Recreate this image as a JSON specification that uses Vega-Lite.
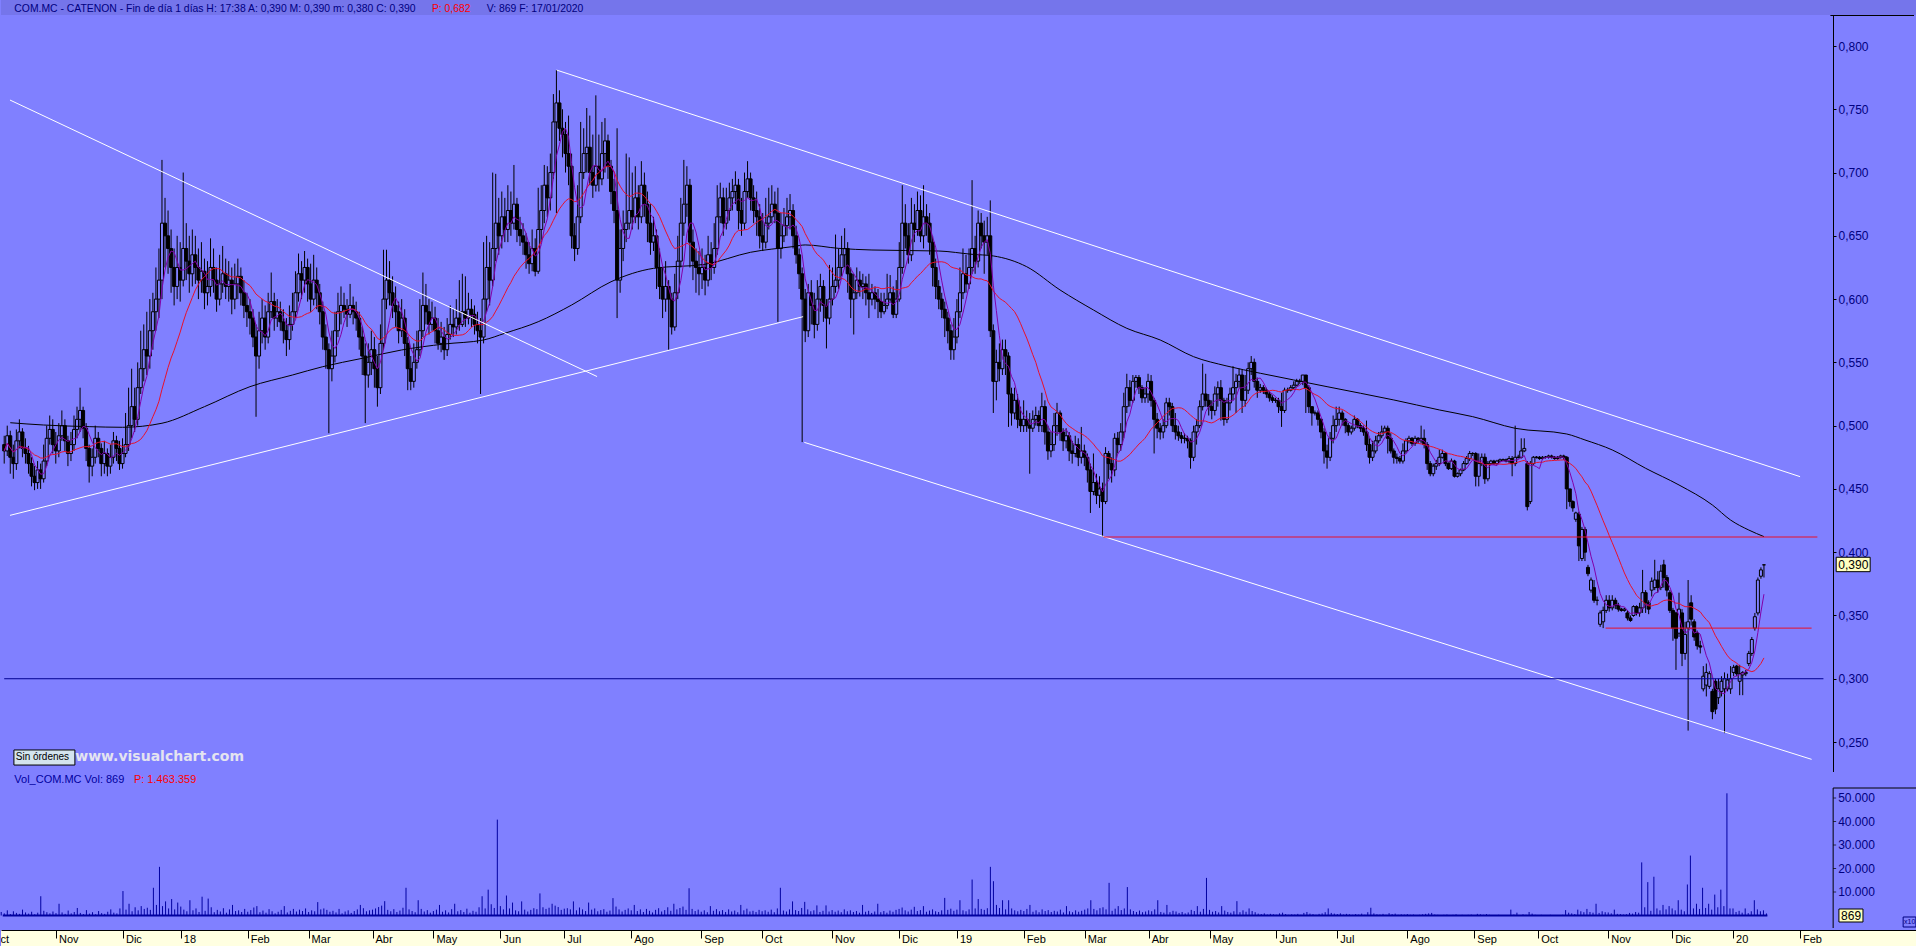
{
"$schema": "https://vega.github.io/schema/vega-lite/v6.json",
"padding": 0,
"spacing": 0,
"background": "#8080FF",
"config": {"view": {"stroke": null}, "axis": {"grid": false, "labelOverlap": false, "labelBound": false}, "text": {"font": "Liberation Sans"}, "bar": {"continuousBandSize": 3},
 "locale": {"number": {"decimal": ",", "thousands": ".", "grouping": [3], "currency": ["", " €"]}}},
"datasets": {
"bars": [
{"i":-18,"o":0.485,"h":0.492,"l":0.47,"c":0.48,"v":1500},
{"i":-17,"o":0.48,"h":0.5,"l":0.476,"c":0.492,"v":900},
{"i":-16,"o":0.492,"h":0.496,"l":0.462,"c":0.475,"v":2200},
{"i":-15,"o":0.475,"h":0.485,"l":0.458,"c":0.47,"v":600},
{"i":-14,"o":0.47,"h":0.497,"l":0.465,"c":0.488,"v":1800},
{"i":-13,"o":0.488,"h":0.505,"l":0.482,"c":0.495,"v":1100},
{"i":-12,"o":0.495,"h":0.498,"l":0.475,"c":0.482,"v":700},
{"i":-11,"o":0.482,"h":0.49,"l":0.47,"c":0.478,"v":2500},
{"i":-10,"o":0.478,"h":0.484,"l":0.462,"c":0.47,"v":1300},
{"i":-9,"o":0.47,"h":0.475,"l":0.452,"c":0.46,"v":800},
{"i":-8,"o":0.46,"h":0.468,"l":0.449,"c":0.455,"v":1600},
{"i":-7,"o":0.455,"h":0.472,"l":0.45,"c":0.465,"v":500},
{"i":-6,"o":0.465,"h":0.47,"l":0.45,"c":0.458,"v":1200},
{"i":-5,"o":0.458,"h":0.485,"l":0.455,"c":0.472,"v":8200},
{"i":-4,"o":0.472,"h":0.5,"l":0.468,"c":0.49,"v":2000},
{"i":-3,"o":0.49,"h":0.508,"l":0.485,"c":0.497,"v":1400},
{"i":-2,"o":0.497,"h":0.505,"l":0.478,"c":0.485,"v":900},
{"i":-1,"o":0.485,"h":0.495,"l":0.47,"c":0.48,"v":1700},
{"i":0,"o":0.48,"h":0.502,"l":0.475,"c":0.492,"v":1000},
{"i":1,"o":0.492,"h":0.512,"l":0.488,"c":0.5,"v":5000},
{"i":2,"o":0.5,"h":0.505,"l":0.48,"c":0.488,"v":1300},
{"i":3,"o":0.488,"h":0.492,"l":0.468,"c":0.478,"v":700},
{"i":4,"o":0.478,"h":0.495,"l":0.472,"c":0.485,"v":2100},
{"i":5,"o":0.485,"h":0.508,"l":0.48,"c":0.497,"v":900},
{"i":6,"o":0.497,"h":0.515,"l":0.49,"c":0.505,"v":1500},
{"i":7,"o":0.505,"h":0.53,"l":0.495,"c":0.512,"v":3200},
{"i":8,"o":0.512,"h":0.515,"l":0.49,"c":0.498,"v":1100},
{"i":9,"o":0.498,"h":0.502,"l":0.472,"c":0.482,"v":600},
{"i":10,"o":0.482,"h":0.485,"l":0.455,"c":0.468,"v":2300},
{"i":11,"o":0.468,"h":0.482,"l":0.46,"c":0.475,"v":800},
{"i":12,"o":0.475,"h":0.5,"l":0.47,"c":0.49,"v":1400},
{"i":13,"o":0.49,"h":0.495,"l":0.475,"c":0.482,"v":500},
{"i":14,"o":0.482,"h":0.486,"l":0.46,"c":0.47,"v":1900},
{"i":15,"o":0.47,"h":0.488,"l":0.462,"c":0.478,"v":1000},
{"i":16,"o":0.478,"h":0.482,"l":0.46,"c":0.468,"v":700},
{"i":17,"o":0.468,"h":0.485,"l":0.462,"c":0.475,"v":1600},
{"i":18,"o":0.475,"h":0.495,"l":0.47,"c":0.488,"v":2600},
{"i":19,"o":0.488,"h":0.492,"l":0.472,"c":0.482,"v":1200},
{"i":20,"o":0.482,"h":0.488,"l":0.465,"c":0.47,"v":900},
{"i":21,"o":0.47,"h":0.49,"l":0.466,"c":0.478,"v":3000},
{"i":22,"o":0.478,"h":0.51,"l":0.475,"c":0.485,"v":10400},
{"i":23,"o":0.485,"h":0.53,"l":0.48,"c":0.5,"v":2500},
{"i":24,"o":0.5,"h":0.545,"l":0.49,"c":0.515,"v":5000},
{"i":25,"o":0.515,"h":0.53,"l":0.495,"c":0.505,"v":1800},
{"i":26,"o":0.505,"h":0.55,"l":0.5,"c":0.53,"v":3500},
{"i":27,"o":0.53,"h":0.575,"l":0.525,"c":0.545,"v":2200},
{"i":28,"o":0.545,"h":0.58,"l":0.535,"c":0.56,"v":4000},
{"i":29,"o":0.56,"h":0.59,"l":0.54,"c":0.555,"v":2800},
{"i":30,"o":0.555,"h":0.6,"l":0.545,"c":0.575,"v":3300},
{"i":31,"o":0.575,"h":0.605,"l":0.56,"c":0.59,"v":2400},
{"i":32,"o":0.59,"h":0.625,"l":0.575,"c":0.6,"v":11800},
{"i":33,"o":0.6,"h":0.64,"l":0.585,"c":0.615,"v":4500},
{"i":34,"o":0.615,"h":0.71,"l":0.6,"c":0.66,"v":20700},
{"i":35,"o":0.66,"h":0.68,"l":0.625,"c":0.65,"v":4000},
{"i":36,"o":0.65,"h":0.67,"l":0.62,"c":0.64,"v":6000},
{"i":37,"o":0.64,"h":0.655,"l":0.605,"c":0.625,"v":3000},
{"i":38,"o":0.625,"h":0.64,"l":0.595,"c":0.61,"v":7000},
{"i":39,"o":0.61,"h":0.65,"l":0.6,"c":0.625,"v":2600},
{"i":40,"o":0.625,"h":0.645,"l":0.598,"c":0.615,"v":5500},
{"i":41,"o":0.615,"h":0.7,"l":0.61,"c":0.64,"v":3800},
{"i":42,"o":0.64,"h":0.66,"l":0.615,"c":0.63,"v":2500},
{"i":43,"o":0.63,"h":0.65,"l":0.605,"c":0.62,"v":1800},
{"i":44,"o":0.62,"h":0.655,"l":0.61,"c":0.635,"v":6500},
{"i":45,"o":0.635,"h":0.65,"l":0.612,"c":0.625,"v":2200},
{"i":46,"o":0.625,"h":0.64,"l":0.6,"c":0.615,"v":3000},
{"i":47,"o":0.615,"h":0.645,"l":0.605,"c":0.622,"v":1500},
{"i":48,"o":0.622,"h":0.632,"l":0.592,"c":0.605,"v":8000},
{"i":49,"o":0.605,"h":0.63,"l":0.595,"c":0.61,"v":2000},
{"i":50,"o":0.61,"h":0.648,"l":0.602,"c":0.625,"v":7200},
{"i":51,"o":0.625,"h":0.64,"l":0.605,"c":0.615,"v":3500},
{"i":52,"o":0.615,"h":0.625,"l":0.59,"c":0.6,"v":1400},
{"i":53,"o":0.6,"h":0.635,"l":0.595,"c":0.612,"v":2400},
{"i":54,"o":0.612,"h":0.642,"l":0.605,"c":0.62,"v":1700},
{"i":55,"o":0.62,"h":0.632,"l":0.6,"c":0.61,"v":3100},
{"i":56,"o":0.61,"h":0.63,"l":0.598,"c":0.615,"v":1200},
{"i":57,"o":0.615,"h":0.625,"l":0.588,"c":0.6,"v":2600},
{"i":58,"o":0.6,"h":0.628,"l":0.592,"c":0.612,"v":4500},
{"i":59,"o":0.612,"h":0.632,"l":0.6,"c":0.618,"v":1900},
{"i":60,"o":0.618,"h":0.625,"l":0.595,"c":0.605,"v":2200},
{"i":61,"o":0.605,"h":0.615,"l":0.585,"c":0.595,"v":1500},
{"i":62,"o":0.595,"h":0.605,"l":0.578,"c":0.59,"v":2800},
{"i":63,"o":0.59,"h":0.6,"l":0.572,"c":0.585,"v":1600},
{"i":64,"o":0.585,"h":0.592,"l":0.562,"c":0.57,"v":2300},
{"i":65,"o":0.57,"h":0.58,"l":0.507,"c":0.555,"v":3400},
{"i":66,"o":0.555,"h":0.59,"l":0.545,"c":0.575,"v":4000},
{"i":67,"o":0.575,"h":0.6,"l":0.565,"c":0.585,"v":1400},
{"i":68,"o":0.585,"h":0.595,"l":0.56,"c":0.57,"v":2100},
{"i":69,"o":0.57,"h":0.605,"l":0.565,"c":0.59,"v":1200},
{"i":70,"o":0.59,"h":0.621,"l":0.585,"c":0.598,"v":2700},
{"i":71,"o":0.598,"h":0.605,"l":0.575,"c":0.585,"v":1800},
{"i":72,"o":0.585,"h":0.6,"l":0.578,"c":0.59,"v":900},
{"i":73,"o":0.59,"h":0.598,"l":0.575,"c":0.582,"v":1600},
{"i":74,"o":0.582,"h":0.592,"l":0.565,"c":0.575,"v":2400},
{"i":75,"o":0.575,"h":0.585,"l":0.555,"c":0.568,"v":4000},
{"i":76,"o":0.568,"h":0.595,"l":0.56,"c":0.58,"v":1300},
{"i":77,"o":0.58,"h":0.605,"l":0.575,"c":0.59,"v":2000},
{"i":78,"o":0.59,"h":0.622,"l":0.585,"c":0.605,"v":2800},
{"i":79,"o":0.605,"h":0.636,"l":0.598,"c":0.62,"v":1700},
{"i":80,"o":0.62,"h":0.63,"l":0.6,"c":0.615,"v":2500},
{"i":81,"o":0.615,"h":0.638,"l":0.605,"c":0.625,"v":1900},
{"i":82,"o":0.625,"h":0.632,"l":0.598,"c":0.612,"v":3000},
{"i":83,"o":0.612,"h":0.628,"l":0.59,"c":0.6,"v":1500},
{"i":84,"o":0.6,"h":0.635,"l":0.595,"c":0.615,"v":2200},
{"i":85,"o":0.615,"h":0.625,"l":0.592,"c":0.605,"v":1800},
{"i":86,"o":0.605,"h":0.612,"l":0.58,"c":0.59,"v":5700},
{"i":87,"o":0.59,"h":0.598,"l":0.56,"c":0.57,"v":2600},
{"i":88,"o":0.57,"h":0.58,"l":0.545,"c":0.56,"v":3000},
{"i":89,"o":0.56,"h":0.565,"l":0.494,"c":0.545,"v":2400},
{"i":90,"o":0.545,"h":0.575,"l":0.535,"c":0.555,"v":1600},
{"i":91,"o":0.555,"h":0.59,"l":0.55,"c":0.575,"v":2000},
{"i":92,"o":0.575,"h":0.605,"l":0.57,"c":0.59,"v":1300},
{"i":93,"o":0.59,"h":0.61,"l":0.58,"c":0.595,"v":2800},
{"i":94,"o":0.595,"h":0.605,"l":0.585,"c":0.592,"v":900},
{"i":95,"o":0.592,"h":0.6,"l":0.578,"c":0.588,"v":1700},
{"i":96,"o":0.588,"h":0.612,"l":0.585,"c":0.595,"v":2200},
{"i":97,"o":0.595,"h":0.602,"l":0.58,"c":0.59,"v":1100},
{"i":98,"o":0.59,"h":0.598,"l":0.575,"c":0.585,"v":1900},
{"i":99,"o":0.585,"h":0.59,"l":0.56,"c":0.57,"v":2600},
{"i":100,"o":0.57,"h":0.578,"l":0.54,"c":0.555,"v":4500},
{"i":101,"o":0.555,"h":0.565,"l":0.502,"c":0.54,"v":3100},
{"i":102,"o":0.54,"h":0.565,"l":0.53,"c":0.55,"v":1800},
{"i":103,"o":0.55,"h":0.575,"l":0.54,"c":0.56,"v":2200},
{"i":104,"o":0.56,"h":0.57,"l":0.53,"c":0.545,"v":2500},
{"i":105,"o":0.545,"h":0.555,"l":0.515,"c":0.53,"v":3000},
{"i":106,"o":0.53,"h":0.58,"l":0.525,"c":0.565,"v":3600},
{"i":107,"o":0.565,"h":0.639,"l":0.56,"c":0.6,"v":4200},
{"i":108,"o":0.6,"h":0.639,"l":0.592,"c":0.615,"v":6100},
{"i":109,"o":0.615,"h":0.63,"l":0.595,"c":0.605,"v":2400},
{"i":110,"o":0.605,"h":0.618,"l":0.585,"c":0.595,"v":1800},
{"i":111,"o":0.595,"h":0.61,"l":0.578,"c":0.59,"v":2700},
{"i":112,"o":0.59,"h":0.598,"l":0.565,"c":0.575,"v":1500},
{"i":113,"o":0.575,"h":0.6,"l":0.57,"c":0.585,"v":2100},
{"i":114,"o":0.585,"h":0.592,"l":0.555,"c":0.565,"v":3300},
{"i":115,"o":0.565,"h":0.57,"l":0.528,"c":0.545,"v":11800},
{"i":116,"o":0.545,"h":0.555,"l":0.528,"c":0.535,"v":2600},
{"i":117,"o":0.535,"h":0.565,"l":0.53,"c":0.55,"v":1900},
{"i":118,"o":0.55,"h":0.575,"l":0.545,"c":0.56,"v":1400},
{"i":119,"o":0.56,"h":0.6,"l":0.555,"c":0.575,"v":6500},
{"i":120,"o":0.575,"h":0.621,"l":0.57,"c":0.595,"v":2800},
{"i":121,"o":0.595,"h":0.612,"l":0.58,"c":0.59,"v":1700},
{"i":122,"o":0.59,"h":0.6,"l":0.572,"c":0.58,"v":2300},
{"i":123,"o":0.58,"h":0.598,"l":0.575,"c":0.585,"v":1200},
{"i":124,"o":0.585,"h":0.594,"l":0.565,"c":0.575,"v":1900},
{"i":125,"o":0.575,"h":0.585,"l":0.56,"c":0.565,"v":2500},
{"i":126,"o":0.565,"h":0.582,"l":0.558,"c":0.57,"v":4500},
{"i":127,"o":0.57,"h":0.578,"l":0.552,"c":0.56,"v":1600},
{"i":128,"o":0.56,"h":0.585,"l":0.555,"c":0.572,"v":2200},
{"i":129,"o":0.572,"h":0.595,"l":0.568,"c":0.58,"v":1300},
{"i":130,"o":0.58,"h":0.592,"l":0.57,"c":0.578,"v":2700},
{"i":131,"o":0.578,"h":0.6,"l":0.572,"c":0.585,"v":5000},
{"i":132,"o":0.585,"h":0.615,"l":0.575,"c":0.58,"v":1800},
{"i":133,"o":0.58,"h":0.62,"l":0.578,"c":0.59,"v":2300},
{"i":134,"o":0.59,"h":0.618,"l":0.578,"c":0.585,"v":1500},
{"i":135,"o":0.585,"h":0.605,"l":0.58,"c":0.592,"v":2900},
{"i":136,"o":0.592,"h":0.6,"l":0.578,"c":0.588,"v":1200},
{"i":137,"o":0.588,"h":0.595,"l":0.572,"c":0.58,"v":2000},
{"i":138,"o":0.58,"h":0.59,"l":0.565,"c":0.575,"v":1600},
{"i":139,"o":0.575,"h":0.585,"l":0.525,"c":0.57,"v":3500},
{"i":140,"o":0.57,"h":0.645,"l":0.565,"c":0.6,"v":8200},
{"i":141,"o":0.6,"h":0.65,"l":0.59,"c":0.625,"v":3000},
{"i":142,"o":0.625,"h":0.645,"l":0.595,"c":0.615,"v":11000},
{"i":143,"o":0.615,"h":0.7,"l":0.61,"c":0.64,"v":4800},
{"i":144,"o":0.64,"h":0.699,"l":0.63,"c":0.66,"v":3200},
{"i":145,"o":0.66,"h":0.68,"l":0.635,"c":0.65,"v":40800},
{"i":146,"o":0.65,"h":0.685,"l":0.64,"c":0.665,"v":4000},
{"i":147,"o":0.665,"h":0.68,"l":0.645,"c":0.655,"v":2600},
{"i":148,"o":0.655,"h":0.69,"l":0.645,"c":0.67,"v":8500},
{"i":149,"o":0.67,"h":0.685,"l":0.65,"c":0.66,"v":3000},
{"i":150,"o":0.66,"h":0.706,"l":0.655,"c":0.675,"v":5500},
{"i":151,"o":0.675,"h":0.68,"l":0.645,"c":0.655,"v":2200},
{"i":152,"o":0.655,"h":0.665,"l":0.642,"c":0.65,"v":1800},
{"i":153,"o":0.65,"h":0.66,"l":0.635,"c":0.645,"v":6000},
{"i":154,"o":0.645,"h":0.652,"l":0.624,"c":0.635,"v":2500},
{"i":155,"o":0.635,"h":0.645,"l":0.62,"c":0.628,"v":1700},
{"i":156,"o":0.628,"h":0.655,"l":0.622,"c":0.64,"v":2400},
{"i":157,"o":0.64,"h":0.648,"l":0.618,"c":0.622,"v":3100},
{"i":158,"o":0.622,"h":0.688,"l":0.62,"c":0.655,"v":2700},
{"i":159,"o":0.655,"h":0.69,"l":0.645,"c":0.67,"v":9400},
{"i":160,"o":0.67,"h":0.706,"l":0.66,"c":0.69,"v":3500},
{"i":161,"o":0.69,"h":0.705,"l":0.665,"c":0.68,"v":2800},
{"i":162,"o":0.68,"h":0.715,"l":0.67,"c":0.7,"v":3300},
{"i":163,"o":0.7,"h":0.762,"l":0.695,"c":0.74,"v":5000},
{"i":164,"o":0.74,"h":0.781,"l":0.668,"c":0.755,"v":4200},
{"i":165,"o":0.755,"h":0.765,"l":0.725,"c":0.735,"v":3600},
{"i":166,"o":0.735,"h":0.75,"l":0.712,"c":0.73,"v":2400},
{"i":167,"o":0.73,"h":0.74,"l":0.7,"c":0.715,"v":2900},
{"i":168,"o":0.715,"h":0.745,"l":0.69,"c":0.705,"v":3100},
{"i":169,"o":0.705,"h":0.715,"l":0.64,"c":0.65,"v":2600},
{"i":170,"o":0.65,"h":0.66,"l":0.63,"c":0.64,"v":6000},
{"i":171,"o":0.64,"h":0.69,"l":0.635,"c":0.665,"v":2200},
{"i":172,"o":0.665,"h":0.74,"l":0.66,"c":0.7,"v":3400},
{"i":173,"o":0.7,"h":0.735,"l":0.695,"c":0.715,"v":2600},
{"i":174,"o":0.715,"h":0.751,"l":0.7,"c":0.72,"v":1900},
{"i":175,"o":0.72,"h":0.745,"l":0.69,"c":0.7,"v":5500},
{"i":176,"o":0.7,"h":0.73,"l":0.68,"c":0.69,"v":2500},
{"i":177,"o":0.69,"h":0.761,"l":0.685,"c":0.705,"v":3000},
{"i":178,"o":0.705,"h":0.73,"l":0.685,"c":0.695,"v":1800},
{"i":179,"o":0.695,"h":0.74,"l":0.69,"c":0.715,"v":2300},
{"i":180,"o":0.715,"h":0.743,"l":0.7,"c":0.725,"v":2700},
{"i":181,"o":0.725,"h":0.73,"l":0.695,"c":0.705,"v":1600},
{"i":182,"o":0.705,"h":0.71,"l":0.675,"c":0.685,"v":2100},
{"i":183,"o":0.685,"h":0.695,"l":0.66,"c":0.67,"v":7400},
{"i":184,"o":0.67,"h":0.735,"l":0.585,"c":0.615,"v":3800},
{"i":185,"o":0.615,"h":0.655,"l":0.605,"c":0.64,"v":2600},
{"i":186,"o":0.64,"h":0.67,"l":0.63,"c":0.655,"v":1700},
{"i":187,"o":0.655,"h":0.715,"l":0.645,"c":0.66,"v":2400},
{"i":188,"o":0.66,"h":0.712,"l":0.655,"c":0.67,"v":3000},
{"i":189,"o":0.67,"h":0.7,"l":0.655,"c":0.665,"v":2200},
{"i":190,"o":0.665,"h":0.705,"l":0.66,"c":0.68,"v":4500},
{"i":191,"o":0.68,"h":0.69,"l":0.655,"c":0.665,"v":1900},
{"i":192,"o":0.665,"h":0.709,"l":0.66,"c":0.69,"v":2600},
{"i":193,"o":0.69,"h":0.7,"l":0.665,"c":0.675,"v":1500},
{"i":194,"o":0.675,"h":0.685,"l":0.645,"c":0.66,"v":2800},
{"i":195,"o":0.66,"h":0.675,"l":0.635,"c":0.645,"v":2000},
{"i":196,"o":0.645,"h":0.665,"l":0.638,"c":0.65,"v":1300},
{"i":197,"o":0.65,"h":0.655,"l":0.608,"c":0.625,"v":2400},
{"i":198,"o":0.625,"h":0.64,"l":0.6,"c":0.61,"v":3100},
{"i":199,"o":0.61,"h":0.625,"l":0.585,"c":0.6,"v":1700},
{"i":200,"o":0.6,"h":0.63,"l":0.59,"c":0.61,"v":2300},
{"i":201,"o":0.61,"h":0.615,"l":0.56,"c":0.6,"v":3500},
{"i":202,"o":0.6,"h":0.605,"l":0.572,"c":0.578,"v":2000},
{"i":203,"o":0.578,"h":0.62,"l":0.575,"c":0.605,"v":5000},
{"i":204,"o":0.605,"h":0.65,"l":0.6,"c":0.63,"v":2600},
{"i":205,"o":0.63,"h":0.68,"l":0.625,"c":0.66,"v":3200},
{"i":206,"o":0.66,"h":0.71,"l":0.65,"c":0.675,"v":3800},
{"i":207,"o":0.675,"h":0.705,"l":0.665,"c":0.69,"v":2400},
{"i":208,"o":0.69,"h":0.695,"l":0.625,"c":0.645,"v":11600},
{"i":209,"o":0.645,"h":0.655,"l":0.615,"c":0.63,"v":2800},
{"i":210,"o":0.63,"h":0.64,"l":0.605,"c":0.625,"v":1900},
{"i":211,"o":0.625,"h":0.638,"l":0.603,"c":0.62,"v":2500},
{"i":212,"o":0.62,"h":0.64,"l":0.608,"c":0.625,"v":1600},
{"i":213,"o":0.625,"h":0.635,"l":0.603,"c":0.615,"v":2200},
{"i":214,"o":0.615,"h":0.65,"l":0.61,"c":0.635,"v":1400},
{"i":215,"o":0.635,"h":0.645,"l":0.615,"c":0.625,"v":4000},
{"i":216,"o":0.625,"h":0.66,"l":0.62,"c":0.64,"v":2000},
{"i":217,"o":0.64,"h":0.69,"l":0.635,"c":0.665,"v":2700},
{"i":218,"o":0.665,"h":0.692,"l":0.66,"c":0.68,"v":1800},
{"i":219,"o":0.68,"h":0.688,"l":0.65,"c":0.66,"v":2300},
{"i":220,"o":0.66,"h":0.688,"l":0.655,"c":0.67,"v":1500},
{"i":221,"o":0.67,"h":0.692,"l":0.662,"c":0.68,"v":2600},
{"i":222,"o":0.68,"h":0.695,"l":0.67,"c":0.685,"v":1700},
{"i":223,"o":0.685,"h":0.701,"l":0.675,"c":0.69,"v":2100},
{"i":224,"o":0.69,"h":0.695,"l":0.655,"c":0.67,"v":1400},
{"i":225,"o":0.67,"h":0.68,"l":0.65,"c":0.66,"v":4500},
{"i":226,"o":0.66,"h":0.7,"l":0.655,"c":0.685,"v":2200},
{"i":227,"o":0.685,"h":0.709,"l":0.68,"c":0.695,"v":2900},
{"i":228,"o":0.695,"h":0.7,"l":0.67,"c":0.68,"v":1700},
{"i":229,"o":0.68,"h":0.69,"l":0.66,"c":0.67,"v":2000},
{"i":230,"o":0.67,"h":0.685,"l":0.65,"c":0.665,"v":1500},
{"i":231,"o":0.665,"h":0.675,"l":0.64,"c":0.65,"v":2400},
{"i":232,"o":0.65,"h":0.668,"l":0.638,"c":0.645,"v":1800},
{"i":233,"o":0.645,"h":0.68,"l":0.64,"c":0.66,"v":2200},
{"i":234,"o":0.66,"h":0.688,"l":0.655,"c":0.665,"v":1600},
{"i":235,"o":0.665,"h":0.69,"l":0.66,"c":0.675,"v":2500},
{"i":236,"o":0.675,"h":0.685,"l":0.66,"c":0.668,"v":1400},
{"i":237,"o":0.668,"h":0.688,"l":0.582,"c":0.64,"v":3000},
{"i":238,"o":0.64,"h":0.668,"l":0.632,"c":0.65,"v":11800},
{"i":239,"o":0.65,"h":0.672,"l":0.645,"c":0.658,"v":2100},
{"i":240,"o":0.658,"h":0.68,"l":0.65,"c":0.665,"v":1700},
{"i":241,"o":0.665,"h":0.683,"l":0.655,"c":0.67,"v":2600},
{"i":242,"o":0.67,"h":0.675,"l":0.64,"c":0.65,"v":6000},
{"i":243,"o":0.65,"h":0.658,"l":0.628,"c":0.635,"v":2300},
{"i":244,"o":0.635,"h":0.64,"l":0.608,"c":0.62,"v":1900},
{"i":245,"o":0.62,"h":0.625,"l":0.487,"c":0.6,"v":3200},
{"i":246,"o":0.6,"h":0.608,"l":0.566,"c":0.575,"v":5800},
{"i":247,"o":0.575,"h":0.612,"l":0.57,"c":0.605,"v":2600},
{"i":248,"o":0.605,"h":0.615,"l":0.58,"c":0.595,"v":1800},
{"i":249,"o":0.595,"h":0.605,"l":0.569,"c":0.58,"v":2200},
{"i":250,"o":0.58,"h":0.615,"l":0.575,"c":0.6,"v":4300},
{"i":251,"o":0.6,"h":0.62,"l":0.59,"c":0.61,"v":1500},
{"i":252,"o":0.61,"h":0.615,"l":0.582,"c":0.595,"v":2000},
{"i":253,"o":0.595,"h":0.6,"l":0.561,"c":0.585,"v":4300},
{"i":254,"o":0.585,"h":0.627,"l":0.58,"c":0.6,"v":1700},
{"i":255,"o":0.6,"h":0.625,"l":0.595,"c":0.61,"v":2300},
{"i":256,"o":0.61,"h":0.651,"l":0.605,"c":0.615,"v":1600},
{"i":257,"o":0.615,"h":0.64,"l":0.608,"c":0.625,"v":2100},
{"i":258,"o":0.625,"h":0.65,"l":0.618,"c":0.635,"v":1400},
{"i":259,"o":0.635,"h":0.656,"l":0.625,"c":0.64,"v":2600},
{"i":260,"o":0.64,"h":0.645,"l":0.605,"c":0.62,"v":1800},
{"i":261,"o":0.62,"h":0.625,"l":0.585,"c":0.6,"v":2200},
{"i":262,"o":0.6,"h":0.62,"l":0.572,"c":0.605,"v":1500},
{"i":263,"o":0.605,"h":0.625,"l":0.6,"c":0.615,"v":1900},
{"i":264,"o":0.615,"h":0.622,"l":0.602,"c":0.61,"v":1200},
{"i":265,"o":0.61,"h":0.62,"l":0.6,"c":0.612,"v":4500},
{"i":266,"o":0.612,"h":0.618,"l":0.595,"c":0.605,"v":1600},
{"i":267,"o":0.605,"h":0.62,"l":0.585,"c":0.6,"v":2000},
{"i":268,"o":0.6,"h":0.612,"l":0.595,"c":0.605,"v":1100},
{"i":269,"o":0.605,"h":0.61,"l":0.592,"c":0.6,"v":1700},
{"i":270,"o":0.6,"h":0.608,"l":0.585,"c":0.598,"v":5000},
{"i":271,"o":0.598,"h":0.605,"l":0.585,"c":0.59,"v":1400},
{"i":272,"o":0.59,"h":0.605,"l":0.588,"c":0.595,"v":1900},
{"i":273,"o":0.595,"h":0.62,"l":0.592,"c":0.6,"v":1200},
{"i":274,"o":0.6,"h":0.619,"l":0.598,"c":0.605,"v":2100},
{"i":275,"o":0.605,"h":0.61,"l":0.585,"c":0.588,"v":1600},
{"i":276,"o":0.588,"h":0.615,"l":0.585,"c":0.6,"v":2400},
{"i":277,"o":0.6,"h":0.645,"l":0.598,"c":0.625,"v":2800},
{"i":278,"o":0.625,"h":0.69,"l":0.62,"c":0.66,"v":3400},
{"i":279,"o":0.66,"h":0.675,"l":0.64,"c":0.65,"v":2200},
{"i":280,"o":0.65,"h":0.66,"l":0.628,"c":0.635,"v":1700},
{"i":281,"o":0.635,"h":0.68,"l":0.63,"c":0.66,"v":2500},
{"i":282,"o":0.66,"h":0.675,"l":0.645,"c":0.655,"v":3700},
{"i":283,"o":0.655,"h":0.685,"l":0.65,"c":0.67,"v":1900},
{"i":284,"o":0.67,"h":0.682,"l":0.645,"c":0.65,"v":2300},
{"i":285,"o":0.65,"h":0.69,"l":0.64,"c":0.665,"v":4000},
{"i":286,"o":0.665,"h":0.675,"l":0.65,"c":0.66,"v":1600},
{"i":287,"o":0.66,"h":0.668,"l":0.635,"c":0.645,"v":2100},
{"i":288,"o":0.645,"h":0.65,"l":0.61,"c":0.625,"v":2600},
{"i":289,"o":0.625,"h":0.632,"l":0.6,"c":0.61,"v":1800},
{"i":290,"o":0.61,"h":0.615,"l":0.592,"c":0.6,"v":1500},
{"i":291,"o":0.6,"h":0.605,"l":0.585,"c":0.592,"v":2200},
{"i":292,"o":0.592,"h":0.598,"l":0.57,"c":0.585,"v":7500},
{"i":293,"o":0.585,"h":0.59,"l":0.565,"c":0.575,"v":2400},
{"i":294,"o":0.575,"h":0.58,"l":0.552,"c":0.56,"v":2900},
{"i":295,"o":0.56,"h":0.585,"l":0.552,"c":0.57,"v":2000},
{"i":296,"o":0.57,"h":0.6,"l":0.565,"c":0.59,"v":2500},
{"i":297,"o":0.59,"h":0.625,"l":0.585,"c":0.605,"v":6500},
{"i":298,"o":0.605,"h":0.64,"l":0.6,"c":0.62,"v":2200},
{"i":299,"o":0.62,"h":0.635,"l":0.605,"c":0.612,"v":1800},
{"i":300,"o":0.612,"h":0.64,"l":0.608,"c":0.625,"v":2600},
{"i":301,"o":0.625,"h":0.694,"l":0.62,"c":0.64,"v":15300},
{"i":302,"o":0.64,"h":0.65,"l":0.62,"c":0.63,"v":3000},
{"i":303,"o":0.63,"h":0.67,"l":0.625,"c":0.66,"v":7000},
{"i":304,"o":0.66,"h":0.668,"l":0.64,"c":0.65,"v":2800},
{"i":305,"o":0.65,"h":0.662,"l":0.62,"c":0.645,"v":2400},
{"i":306,"o":0.645,"h":0.665,"l":0.635,"c":0.65,"v":3100},
{"i":307,"o":0.65,"h":0.678,"l":0.57,"c":0.575,"v":20700},
{"i":308,"o":0.575,"h":0.58,"l":0.51,"c":0.535,"v":14600},
{"i":309,"o":0.535,"h":0.56,"l":0.52,"c":0.55,"v":4500},
{"i":310,"o":0.55,"h":0.565,"l":0.535,"c":0.545,"v":3200},
{"i":311,"o":0.545,"h":0.568,"l":0.54,"c":0.56,"v":6500},
{"i":312,"o":0.56,"h":0.568,"l":0.54,"c":0.555,"v":2600},
{"i":313,"o":0.555,"h":0.558,"l":0.499,"c":0.525,"v":6500},
{"i":314,"o":0.525,"h":0.53,"l":0.5,"c":0.51,"v":3000},
{"i":315,"o":0.51,"h":0.53,"l":0.505,"c":0.52,"v":2200},
{"i":316,"o":0.52,"h":0.525,"l":0.498,"c":0.505,"v":1800},
{"i":317,"o":0.505,"h":0.515,"l":0.495,"c":0.5,"v":2400},
{"i":318,"o":0.5,"h":0.52,"l":0.495,"c":0.505,"v":1900},
{"i":319,"o":0.505,"h":0.512,"l":0.495,"c":0.5,"v":2800},
{"i":320,"o":0.5,"h":0.51,"l":0.462,"c":0.498,"v":4500},
{"i":321,"o":0.498,"h":0.512,"l":0.495,"c":0.505,"v":1600},
{"i":322,"o":0.505,"h":0.515,"l":0.5,"c":0.508,"v":2200},
{"i":323,"o":0.508,"h":0.512,"l":0.495,"c":0.5,"v":1400},
{"i":324,"o":0.5,"h":0.526,"l":0.495,"c":0.515,"v":2600},
{"i":325,"o":0.515,"h":0.52,"l":0.485,"c":0.495,"v":1900},
{"i":326,"o":0.495,"h":0.5,"l":0.473,"c":0.48,"v":2300},
{"i":327,"o":0.48,"h":0.495,"l":0.475,"c":0.485,"v":1500},
{"i":328,"o":0.485,"h":0.51,"l":0.48,"c":0.5,"v":2000},
{"i":329,"o":0.5,"h":0.518,"l":0.492,"c":0.51,"v":1700},
{"i":330,"o":0.51,"h":0.512,"l":0.488,"c":0.495,"v":2500},
{"i":331,"o":0.495,"h":0.498,"l":0.48,"c":0.488,"v":1300},
{"i":332,"o":0.488,"h":0.498,"l":0.482,"c":0.492,"v":4000},
{"i":333,"o":0.492,"h":0.495,"l":0.472,"c":0.48,"v":1800},
{"i":334,"o":0.48,"h":0.488,"l":0.47,"c":0.478,"v":1400},
{"i":335,"o":0.478,"h":0.492,"l":0.475,"c":0.485,"v":2200},
{"i":336,"o":0.485,"h":0.49,"l":0.468,"c":0.475,"v":1600},
{"i":337,"o":0.475,"h":0.499,"l":0.47,"c":0.48,"v":2000},
{"i":338,"o":0.48,"h":0.485,"l":0.468,"c":0.475,"v":2500},
{"i":339,"o":0.475,"h":0.478,"l":0.455,"c":0.465,"v":3000},
{"i":340,"o":0.465,"h":0.47,"l":0.431,"c":0.448,"v":6500},
{"i":341,"o":0.448,"h":0.478,"l":0.445,"c":0.455,"v":2800},
{"i":342,"o":0.455,"h":0.462,"l":0.438,"c":0.445,"v":2200},
{"i":343,"o":0.445,"h":0.46,"l":0.435,"c":0.45,"v":3100},
{"i":344,"o":0.45,"h":0.455,"l":0.412,"c":0.44,"v":3500},
{"i":345,"o":0.44,"h":0.483,"l":0.438,"c":0.478,"v":2600},
{"i":346,"o":0.478,"h":0.48,"l":0.458,"c":0.47,"v":13900},
{"i":347,"o":0.47,"h":0.475,"l":0.455,"c":0.465,"v":2000},
{"i":348,"o":0.465,"h":0.494,"l":0.46,"c":0.49,"v":2900},
{"i":349,"o":0.49,"h":0.495,"l":0.478,"c":0.485,"v":4000},
{"i":350,"o":0.485,"h":0.502,"l":0.48,"c":0.495,"v":2300},
{"i":351,"o":0.495,"h":0.526,"l":0.49,"c":0.515,"v":3000},
{"i":352,"o":0.515,"h":0.541,"l":0.51,"c":0.53,"v":12100},
{"i":353,"o":0.53,"h":0.536,"l":0.515,"c":0.52,"v":2600},
{"i":354,"o":0.52,"h":0.54,"l":0.518,"c":0.535,"v":1900},
{"i":355,"o":0.535,"h":0.54,"l":0.53,"c":0.538,"v":1500},
{"i":356,"o":0.538,"h":0.54,"l":0.525,"c":0.53,"v":2100},
{"i":357,"o":0.53,"h":0.532,"l":0.518,"c":0.522,"v":1400},
{"i":358,"o":0.522,"h":0.53,"l":0.518,"c":0.525,"v":1700},
{"i":359,"o":0.525,"h":0.541,"l":0.518,"c":0.535,"v":2200},
{"i":360,"o":0.535,"h":0.54,"l":0.515,"c":0.52,"v":1800},
{"i":361,"o":0.52,"h":0.522,"l":0.478,"c":0.505,"v":2600},
{"i":362,"o":0.505,"h":0.51,"l":0.49,"c":0.498,"v":6500},
{"i":363,"o":0.498,"h":0.502,"l":0.489,"c":0.495,"v":1500},
{"i":364,"o":0.495,"h":0.505,"l":0.49,"c":0.5,"v":1200},
{"i":365,"o":0.5,"h":0.522,"l":0.498,"c":0.518,"v":4500},
{"i":366,"o":0.518,"h":0.522,"l":0.508,"c":0.515,"v":1400},
{"i":367,"o":0.515,"h":0.518,"l":0.495,"c":0.5,"v":2000},
{"i":368,"o":0.5,"h":0.51,"l":0.489,"c":0.495,"v":1700},
{"i":369,"o":0.495,"h":0.5,"l":0.488,"c":0.492,"v":1100},
{"i":370,"o":0.492,"h":0.495,"l":0.486,"c":0.49,"v":1500},
{"i":371,"o":0.49,"h":0.494,"l":0.486,"c":0.49,"v":900},
{"i":372,"o":0.49,"h":0.492,"l":0.482,"c":0.488,"v":1300},
{"i":373,"o":0.488,"h":0.49,"l":0.466,"c":0.475,"v":2400},
{"i":374,"o":0.475,"h":0.5,"l":0.472,"c":0.495,"v":1900},
{"i":375,"o":0.495,"h":0.505,"l":0.485,"c":0.5,"v":4000},
{"i":376,"o":0.5,"h":0.52,"l":0.498,"c":0.515,"v":1600},
{"i":377,"o":0.515,"h":0.549,"l":0.512,"c":0.525,"v":2800},
{"i":378,"o":0.525,"h":0.541,"l":0.515,"c":0.52,"v":16000},
{"i":379,"o":0.52,"h":0.525,"l":0.508,"c":0.515,"v":2400},
{"i":380,"o":0.515,"h":0.52,"l":0.505,"c":0.512,"v":1600},
{"i":381,"o":0.512,"h":0.531,"l":0.508,"c":0.525,"v":1900},
{"i":382,"o":0.525,"h":0.535,"l":0.515,"c":0.53,"v":1300},
{"i":383,"o":0.53,"h":0.536,"l":0.504,"c":0.52,"v":4000},
{"i":384,"o":0.52,"h":0.522,"l":0.5,"c":0.505,"v":2100},
{"i":385,"o":0.505,"h":0.522,"l":0.502,"c":0.518,"v":1500},
{"i":386,"o":0.518,"h":0.53,"l":0.512,"c":0.525,"v":1200},
{"i":387,"o":0.525,"h":0.547,"l":0.52,"c":0.53,"v":1800},
{"i":388,"o":0.53,"h":0.541,"l":0.51,"c":0.535,"v":6100},
{"i":389,"o":0.535,"h":0.545,"l":0.53,"c":0.54,"v":1400},
{"i":390,"o":0.54,"h":0.544,"l":0.51,"c":0.52,"v":2200},
{"i":391,"o":0.52,"h":0.54,"l":0.515,"c":0.528,"v":1600},
{"i":392,"o":0.528,"h":0.55,"l":0.525,"c":0.545,"v":3000},
{"i":393,"o":0.545,"h":0.555,"l":0.54,"c":0.55,"v":1900},
{"i":394,"o":0.55,"h":0.553,"l":0.53,"c":0.535,"v":1400},
{"i":395,"o":0.535,"h":0.538,"l":0.522,"c":0.528,"v":800},
{"i":396,"o":0.528,"h":0.533,"l":0.526,"c":0.53,"v":600},
{"i":397,"o":0.53,"h":0.532,"l":0.525,"c":0.528,"v":900},
{"i":398,"o":0.528,"h":0.53,"l":0.522,"c":0.525,"v":400},
{"i":399,"o":0.525,"h":0.527,"l":0.519,"c":0.522,"v":700},
{"i":400,"o":0.522,"h":0.524,"l":0.518,"c":0.52,"v":500},
{"i":401,"o":0.52,"h":0.522,"l":0.518,"c":0.52,"v":300},
{"i":402,"o":0.52,"h":0.522,"l":0.51,"c":0.515,"v":900},
{"i":403,"o":0.515,"h":0.526,"l":0.499,"c":0.512,"v":1200},
{"i":404,"o":0.512,"h":0.53,"l":0.51,"c":0.528,"v":600},
{"i":405,"o":0.528,"h":0.53,"l":0.526,"c":0.528,"v":300},
{"i":406,"o":0.528,"h":0.532,"l":0.527,"c":0.53,"v":500},
{"i":407,"o":0.53,"h":0.535,"l":0.529,"c":0.532,"v":400},
{"i":408,"o":0.532,"h":0.537,"l":0.531,"c":0.535,"v":700},
{"i":409,"o":0.535,"h":0.537,"l":0.533,"c":0.535,"v":300},
{"i":410,"o":0.535,"h":0.54,"l":0.532,"c":0.54,"v":1100},
{"i":411,"o":0.54,"h":0.54,"l":0.51,"c":0.53,"v":1500},
{"i":412,"o":0.53,"h":0.532,"l":0.51,"c":0.515,"v":800},
{"i":413,"o":0.515,"h":0.515,"l":0.5,"c":0.51,"v":600},
{"i":414,"o":0.51,"h":0.512,"l":0.508,"c":0.51,"v":300},
{"i":415,"o":0.51,"h":0.512,"l":0.5,"c":0.505,"v":700},
{"i":416,"o":0.505,"h":0.506,"l":0.49,"c":0.495,"v":900},
{"i":417,"o":0.495,"h":0.498,"l":0.47,"c":0.48,"v":1400},
{"i":418,"o":0.48,"h":0.485,"l":0.466,"c":0.475,"v":3000},
{"i":419,"o":0.475,"h":0.495,"l":0.472,"c":0.49,"v":1100},
{"i":420,"o":0.49,"h":0.508,"l":0.486,"c":0.5,"v":800},
{"i":421,"o":0.5,"h":0.515,"l":0.495,"c":0.505,"v":600},
{"i":422,"o":0.505,"h":0.515,"l":0.5,"c":0.51,"v":900},
{"i":423,"o":0.51,"h":0.512,"l":0.5,"c":0.505,"v":400},
{"i":424,"o":0.505,"h":0.506,"l":0.494,"c":0.5,"v":700},
{"i":425,"o":0.5,"h":0.502,"l":0.492,"c":0.495,"v":500},
{"i":426,"o":0.495,"h":0.5,"l":0.493,"c":0.498,"v":300},
{"i":427,"o":0.498,"h":0.508,"l":0.496,"c":0.505,"v":600},
{"i":428,"o":0.505,"h":0.506,"l":0.498,"c":0.5,"v":400},
{"i":429,"o":0.5,"h":0.502,"l":0.495,"c":0.498,"v":800},
{"i":430,"o":0.498,"h":0.5,"l":0.492,"c":0.495,"v":300},
{"i":431,"o":0.495,"h":0.504,"l":0.48,"c":0.485,"v":1400},
{"i":432,"o":0.485,"h":0.49,"l":0.47,"c":0.475,"v":3300},
{"i":433,"o":0.475,"h":0.488,"l":0.472,"c":0.48,"v":900},
{"i":434,"o":0.48,"h":0.492,"l":0.478,"c":0.488,"v":500},
{"i":435,"o":0.488,"h":0.495,"l":0.486,"c":0.492,"v":400},
{"i":436,"o":0.492,"h":0.5,"l":0.49,"c":0.495,"v":700},
{"i":437,"o":0.495,"h":0.5,"l":0.494,"c":0.498,"v":300},
{"i":438,"o":0.498,"h":0.5,"l":0.478,"c":0.49,"v":1000},
{"i":439,"o":0.49,"h":0.494,"l":0.478,"c":0.48,"v":600},
{"i":440,"o":0.48,"h":0.482,"l":0.47,"c":0.475,"v":800},
{"i":441,"o":0.475,"h":0.478,"l":0.47,"c":0.474,"v":300},
{"i":442,"o":0.474,"h":0.476,"l":0.47,"c":0.472,"v":500},
{"i":443,"o":0.472,"h":0.486,"l":0.47,"c":0.48,"v":400},
{"i":444,"o":0.48,"h":0.49,"l":0.478,"c":0.488,"v":600},
{"i":445,"o":0.488,"h":0.492,"l":0.486,"c":0.49,"v":300},
{"i":446,"o":0.49,"h":0.491,"l":0.484,"c":0.486,"v":400},
{"i":447,"o":0.486,"h":0.492,"l":0.484,"c":0.49,"v":200},
{"i":448,"o":0.49,"h":0.491,"l":0.486,"c":0.488,"v":300},
{"i":449,"o":0.488,"h":0.5,"l":0.486,"c":0.49,"v":500},
{"i":450,"o":0.49,"h":0.497,"l":0.482,"c":0.485,"v":700},
{"i":451,"o":0.485,"h":0.487,"l":0.465,"c":0.47,"v":900},
{"i":452,"o":0.47,"h":0.472,"l":0.46,"c":0.462,"v":1100},
{"i":453,"o":0.462,"h":0.47,"l":0.46,"c":0.468,"v":400},
{"i":454,"o":0.468,"h":0.473,"l":0.465,"c":0.47,"v":300},
{"i":455,"o":0.47,"h":0.481,"l":0.468,"c":0.475,"v":200},
{"i":456,"o":0.475,"h":0.481,"l":0.474,"c":0.478,"v":300},
{"i":457,"o":0.478,"h":0.479,"l":0.468,"c":0.47,"v":400},
{"i":458,"o":0.47,"h":0.471,"l":0.465,"c":0.466,"v":200},
{"i":459,"o":0.466,"h":0.474,"l":0.465,"c":0.472,"v":300},
{"i":460,"o":0.472,"h":0.473,"l":0.459,"c":0.46,"v":500},
{"i":461,"o":0.46,"h":0.463,"l":0.459,"c":0.462,"v":200},
{"i":462,"o":0.462,"h":0.466,"l":0.46,"c":0.465,"v":300},
{"i":463,"o":0.465,"h":0.472,"l":0.464,"c":0.47,"v":200},
{"i":464,"o":0.47,"h":0.476,"l":0.469,"c":0.474,"v":300},
{"i":465,"o":0.474,"h":0.48,"l":0.472,"c":0.478,"v":400},
{"i":466,"o":0.478,"h":0.479,"l":0.476,"c":0.478,"v":200},
{"i":467,"o":0.478,"h":0.479,"l":0.452,"c":0.46,"v":700},
{"i":468,"o":0.46,"h":0.478,"l":0.452,"c":0.47,"v":500},
{"i":469,"o":0.47,"h":0.478,"l":0.468,"c":0.475,"v":300},
{"i":470,"o":0.475,"h":0.478,"l":0.454,"c":0.458,"v":600},
{"i":471,"o":0.458,"h":0.472,"l":0.456,"c":0.47,"v":300},
{"i":472,"o":0.47,"h":0.473,"l":0.469,"c":0.472,"v":200},
{"i":473,"o":0.472,"h":0.473,"l":0.469,"c":0.47,"v":200},
{"i":474,"o":0.47,"h":0.473,"l":0.469,"c":0.472,"v":300},
{"i":475,"o":0.472,"h":0.474,"l":0.471,"c":0.473,"v":200},
{"i":476,"o":0.473,"h":0.474,"l":0.472,"c":0.473,"v":100},
{"i":477,"o":0.473,"h":0.474,"l":0.471,"c":0.472,"v":200},
{"i":478,"o":0.472,"h":0.476,"l":0.47,"c":0.474,"v":2500},
{"i":479,"o":0.474,"h":0.476,"l":0.46,"c":0.47,"v":400},
{"i":480,"o":0.47,"h":0.5,"l":0.468,"c":0.475,"v":1200},
{"i":481,"o":0.475,"h":0.477,"l":0.474,"c":0.475,"v":200},
{"i":482,"o":0.475,"h":0.49,"l":0.474,"c":0.48,"v":500},
{"i":483,"o":0.48,"h":0.49,"l":0.479,"c":0.482,"v":300},
{"i":484,"o":0.47,"h":0.472,"l":0.433,"c":0.436,"v":1500},
{"i":485,"o":0.44,"h":0.472,"l":0.438,"c":0.47,"v":800},
{"i":486,"o":0.47,"h":0.476,"l":0.469,"c":0.475,"v":300},
{"i":487,"o":0.475,"h":0.476,"l":0.474,"c":0.475,"v":200},
{"i":488,"o":0.475,"h":0.476,"l":0.473,"c":0.474,"v":300},
{"i":489,"o":0.474,"h":0.476,"l":0.473,"c":0.475,"v":100},
{"i":490,"o":0.475,"h":0.476,"l":0.474,"c":0.475,"v":200},
{"i":491,"o":0.475,"h":0.477,"l":0.474,"c":0.476,"v":300},
{"i":492,"o":0.476,"h":0.477,"l":0.474,"c":0.475,"v":200},
{"i":493,"o":0.475,"h":0.476,"l":0.473,"c":0.474,"v":100},
{"i":494,"o":0.474,"h":0.476,"l":0.473,"c":0.475,"v":200},
{"i":495,"o":0.475,"h":0.477,"l":0.474,"c":0.476,"v":300},
{"i":496,"o":0.476,"h":0.477,"l":0.473,"c":0.475,"v":2300},
{"i":497,"o":0.475,"h":0.476,"l":0.434,"c":0.45,"v":1200},
{"i":498,"o":0.45,"h":0.45,"l":0.436,"c":0.44,"v":900},
{"i":499,"o":0.44,"h":0.441,"l":0.432,"c":0.435,"v":600},
{"i":500,"o":0.426,"h":0.432,"l":0.424,"c":0.431,"v":2500},
{"i":501,"o":0.43,"h":0.432,"l":0.393,"c":0.405,"v":1800},
{"i":502,"o":0.395,"h":0.42,"l":0.393,"c":0.418,"v":1400},
{"i":503,"o":0.418,"h":0.42,"l":0.393,"c":0.4,"v":2800},
{"i":504,"o":0.388,"h":0.39,"l":0.381,"c":0.383,"v":1500},
{"i":505,"o":0.37,"h":0.38,"l":0.368,"c":0.378,"v":1200},
{"i":506,"o":0.372,"h":0.378,"l":0.36,"c":0.362,"v":5000},
{"i":507,"o":0.362,"h":0.365,"l":0.358,"c":0.362,"v":1100},
{"i":508,"o":0.343,"h":0.354,"l":0.341,"c":0.352,"v":1800},
{"i":509,"o":0.345,"h":0.357,"l":0.34,"c":0.354,"v":1400},
{"i":510,"o":0.354,"h":0.366,"l":0.352,"c":0.362,"v":1300},
{"i":511,"o":0.362,"h":0.366,"l":0.353,"c":0.356,"v":900},
{"i":512,"o":0.356,"h":0.366,"l":0.354,"c":0.362,"v":2500},
{"i":513,"o":0.362,"h":0.364,"l":0.355,"c":0.358,"v":700},
{"i":514,"o":0.358,"h":0.36,"l":0.353,"c":0.355,"v":600},
{"i":515,"o":0.355,"h":0.356,"l":0.353,"c":0.354,"v":400},
{"i":516,"o":0.354,"h":0.356,"l":0.353,"c":0.355,"v":500},
{"i":517,"o":0.352,"h":0.354,"l":0.346,"c":0.348,"v":1100},
{"i":518,"o":0.348,"h":0.35,"l":0.345,"c":0.346,"v":800},
{"i":519,"o":0.35,"h":0.358,"l":0.349,"c":0.357,"v":1500},
{"i":520,"o":0.357,"h":0.358,"l":0.35,"c":0.352,"v":1200},
{"i":521,"o":0.352,"h":0.36,"l":0.349,"c":0.356,"v":22600},
{"i":522,"o":0.356,"h":0.386,"l":0.352,"c":0.368,"v":3500},
{"i":523,"o":0.368,"h":0.37,"l":0.352,"c":0.36,"v":14200},
{"i":524,"o":0.36,"h":0.362,"l":0.351,"c":0.355,"v":2000},
{"i":525,"o":0.37,"h":0.38,"l":0.365,"c":0.377,"v":16500},
{"i":526,"o":0.372,"h":0.394,"l":0.37,"c":0.378,"v":3000},
{"i":527,"o":0.378,"h":0.385,"l":0.368,"c":0.372,"v":2200},
{"i":528,"o":0.372,"h":0.39,"l":0.37,"c":0.385,"v":4500},
{"i":529,"o":0.39,"h":0.394,"l":0.372,"c":0.38,"v":2600},
{"i":530,"o":0.38,"h":0.382,"l":0.365,"c":0.37,"v":4000},
{"i":531,"o":0.368,"h":0.37,"l":0.352,"c":0.354,"v":3000},
{"i":532,"o":0.354,"h":0.356,"l":0.33,"c":0.34,"v":2200},
{"i":533,"o":0.352,"h":0.353,"l":0.307,"c":0.332,"v":6500},
{"i":534,"o":0.336,"h":0.368,"l":0.333,"c":0.355,"v":2500},
{"i":535,"o":0.352,"h":0.355,"l":0.31,"c":0.32,"v":1800},
{"i":536,"o":0.32,"h":0.345,"l":0.315,"c":0.335,"v":13200},
{"i":537,"o":0.34,"h":0.378,"l":0.259,"c":0.345,"v":25500},
{"i":538,"o":0.36,"h":0.366,"l":0.342,"c":0.347,"v":3000},
{"i":539,"o":0.345,"h":0.347,"l":0.33,"c":0.333,"v":5000},
{"i":540,"o":0.336,"h":0.338,"l":0.323,"c":0.326,"v":2800},
{"i":541,"o":0.326,"h":0.33,"l":0.32,"c":0.325,"v":11800},
{"i":542,"o":0.292,"h":0.31,"l":0.29,"c":0.302,"v":3200},
{"i":543,"o":0.295,"h":0.312,"l":0.286,"c":0.305,"v":5000},
{"i":544,"o":0.294,"h":0.306,"l":0.292,"c":0.304,"v":2500},
{"i":545,"o":0.29,"h":0.292,"l":0.268,"c":0.274,"v":8900},
{"i":546,"o":0.298,"h":0.3,"l":0.272,"c":0.276,"v":3500},
{"i":547,"o":0.285,"h":0.3,"l":0.28,"c":0.292,"v":11000},
{"i":548,"o":0.29,"h":0.302,"l":0.286,"c":0.298,"v":4000},
{"i":549,"o":0.292,"h":0.305,"l":0.257,"c":0.3,"v":52000},
{"i":550,"o":0.292,"h":0.304,"l":0.29,"c":0.299,"v":3000},
{"i":551,"o":0.292,"h":0.31,"l":0.288,"c":0.3,"v":3000},
{"i":552,"o":0.305,"h":0.311,"l":0.302,"c":0.309,"v":1500},
{"i":553,"o":0.31,"h":0.311,"l":0.302,"c":0.304,"v":2000},
{"i":554,"o":0.298,"h":0.311,"l":0.287,"c":0.304,"v":1200},
{"i":555,"o":0.303,"h":0.306,"l":0.287,"c":0.305,"v":3000},
{"i":556,"o":0.304,"h":0.307,"l":0.302,"c":0.305,"v":1000},
{"i":557,"o":0.312,"h":0.322,"l":0.31,"c":0.32,"v":1800},
{"i":558,"o":0.32,"h":0.333,"l":0.318,"c":0.331,"v":6500},
{"i":559,"o":0.34,"h":0.352,"l":0.338,"c":0.349,"v":2600},
{"i":560,"o":0.352,"h":0.38,"l":0.35,"c":0.378,"v":1800},
{"i":561,"o":0.381,"h":0.388,"l":0.379,"c":0.386,"v":2200},
{"i":562,"o":0.39,"h":0.39,"l":0.38,"c":0.39,"v":869}
],
"ma200": [
{"i":-16,"p":0.5023},{"i":-5,"p":0.5005},{"i":10,"p":0.4992},{"i":21,"p":0.4987},{"i":34,"p":0.5019},{"i":48,"p":0.515},{"i":63,"p":0.5308},{"i":77,"p":0.54},{"i":87,"p":0.5466},{"i":100,"p":0.5532},{"i":113,"p":0.5598},{"i":127,"p":0.5645},{"i":140,"p":0.5677},{"i":147,"p":0.573},{"i":158,"p":0.5821},{"i":169,"p":0.5953},{"i":182,"p":0.6137},{"i":196,"p":0.6243},{"i":213,"p":0.6275},{"i":228,"p":0.637},{"i":242,"p":0.6415},{"i":246,"p":0.6428},{"i":257,"p":0.6401},{"i":268,"p":0.6388},{"i":290,"p":0.638},{"i":301,"p":0.6354},{"i":308,"p":0.6341},{"i":319,"p":0.6256},{"i":330,"p":0.6072},{"i":341,"p":0.5914},{"i":352,"p":0.5769},{"i":363,"p":0.5677},{"i":374,"p":0.5545},{"i":385,"p":0.5471},{"i":396,"p":0.5414},{"i":407,"p":0.5361},{"i":418,"p":0.5308},{"i":429,"p":0.5256},{"i":440,"p":0.5203},{"i":455,"p":0.5124},{"i":466,"p":0.5071},{"i":480,"p":0.4979},{"i":497,"p":0.4934},{"i":503,"p":0.4887},{"i":512,"p":0.4808},{"i":523,"p":0.4663},{"i":534,"p":0.4531},{"i":545,"p":0.4373},{"i":551,"p":0.4254},{"i":557,"p":0.4175},{"i":562,"p":0.4123}
],
"lines": [
{"seg":"A","i":-16.1,"p":0.7573},{"seg":"A","i":177.4,"p":0.5388},
{"seg":"B","i":-16.1,"p":0.4291},{"seg":"B","i":245.3,"p":0.5861},
{"seg":"C","i":164.05,"p":0.781},{"seg":"C","i":573.9,"p":0.4597},
{"seg":"D","i":245.7,"p":0.4868},{"seg":"D","i":577.7,"p":0.2363},
{"seg":"R1","i":344.3,"p":0.412},{"seg":"R1","i":579.6,"p":0.412},
{"seg":"R2","i":509.8,"p":0.34},{"seg":"R2","i":577.7,"p":0.34},
{"seg":"N","i":-18,"p":0.3},{"seg":"N","i":581.6,"p":0.3}
],
"months": [
{"i":-22,"m":"Oct"},{"i":0,"m":"Nov"},{"i":22,"m":"Dic"},{"i":41,"m":"18"},{"i":63,"m":"Feb"},{"i":83,"m":"Mar"},{"i":104,"m":"Abr"},{"i":124,"m":"May"},{"i":146,"m":"Jun"},{"i":167,"m":"Jul"},{"i":189,"m":"Ago"},{"i":212,"m":"Sep"},{"i":232,"m":"Oct"},{"i":255,"m":"Nov"},{"i":277,"m":"Dic"},{"i":296,"m":"19"},{"i":318,"m":"Feb"},{"i":338,"m":"Mar"},{"i":359,"m":"Abr"},{"i":379,"m":"May"},{"i":401,"m":"Jun"},{"i":421,"m":"Jul"},{"i":444,"m":"Ago"},{"i":466,"m":"Sep"},{"i":487,"m":"Oct"},{"i":510,"m":"Nov"},{"i":531,"m":"Dic"},{"i":551,"m":"20"},{"i":573,"m":"Feb"}
],
"vticks": [
{"v":10000},{"v":20000},{"v":30000},{"v":40000},{"v":50000}
]
},
"vconcat": [
{
"width": 1916, "height": 15,
"view": {"fill": "#7575EB", "stroke": null},
"layer": [
{"data": {"values": [{"t": "COM.MC - CATENON - Fin de día 1 días  H: 17:38  A: 0,390  M: 0,390  m: 0,380  C: 0,390"}]},
 "mark": {"type": "text", "align": "left", "baseline": "middle", "fontSize": 10.4, "color": "#000080", "dy": 1},
 "encoding": {"text": {"field": "t"}, "x": {"datum": -13.7, "type": "quantitative", "scale": {"domain": [-18.07, 611.45], "nice": false, "zero": false}, "axis": null}}},
{"data": {"values": [{"t": "P: 0,682"}]},
 "mark": {"type": "text", "align": "left", "baseline": "middle", "fontSize": 10.4, "color": "#FF0000", "dy": 1},
 "encoding": {"text": {"field": "t"}, "x": {"datum": 123.5, "type": "quantitative", "scale": {"domain": [-18.07, 611.45], "nice": false, "zero": false}, "axis": null}}},
{"data": {"values": [{"t": "V: 869  F: 17/01/2020"}]},
 "mark": {"type": "text", "align": "left", "baseline": "middle", "fontSize": 10.4, "color": "#000080", "dy": 1},
 "encoding": {"text": {"field": "t"}, "x": {"datum": 141.5, "type": "quantitative", "scale": {"domain": [-18.07, 611.45], "nice": false, "zero": false}, "axis": null}}}
]
},
{
"width": 1916, "height": 757,
"view": {"fill": "#8080FF", "stroke": null},
"layer": [
{"data": {"name": "bars"},
 "mark": {"type": "rule", "color": "black", "strokeWidth": 1},
 "encoding": {
  "x": {"field": "i", "type": "quantitative", "scale": {"domain": [-18.07, 611.45], "nice": false, "zero": false},
        "axis": {"orient": "bottom", "labels": false, "ticks": false, "domain": true, "domainColor": "black", "domainWidth": 1, "title": null}},
  "y": {"field": "l", "type": "quantitative", "scale": {"domain": [0.2263, 0.8245], "nice": false, "zero": false},
        "axis": {"orient": "right", "offset": -84, "values": [0.25, 0.3, 0.35, 0.4, 0.45, 0.5, 0.55, 0.6, 0.65, 0.7, 0.75, 0.8],
                 "format": ".3f", "tickSize": 3, "tickColor": "black", "domainColor": "black", "labelOverlap": false,
                 "labelColor": "#000080", "labelFontSize": 12, "labelFont": "Liberation Sans", "labelPadding": 2, "title": null}},
  "y2": {"field": "h"}}},
{"data": {"name": "bars"},
 "mark": {"type": "bar", "stroke": "black", "strokeWidth": 1},
 "encoding": {
  "x": {"field": "i", "type": "quantitative", "scale": {"domain": [-18.07, 611.45], "nice": false, "zero": false}},
  "y": {"field": "o", "type": "quantitative", "scale": {"domain": [0.2263, 0.8245], "nice": false, "zero": false}},
  "y2": {"field": "c"},
  "fill": {"condition": {"test": "datum.c < datum.o", "value": "black"}, "value": "#8080FF"}}},
{"data": {"name": "ma200"},
 "mark": {"type": "line", "color": "black", "strokeWidth": 1, "interpolate": "monotone"},
 "encoding": {
  "x": {"field": "i", "type": "quantitative", "scale": {"domain": [-18.07, 611.45], "nice": false, "zero": false}},
  "y": {"field": "p", "type": "quantitative", "scale": {"domain": [0.2263, 0.8245], "nice": false, "zero": false}}}},
{"data": {"name": "bars"},
 "transform": [{"window": [{"op": "mean", "field": "c", "as": "m20"}], "frame": [-19, 0], "sort": [{"field": "i"}]}],
 "mark": {"type": "line", "color": "#E8102A", "strokeWidth": 1},
 "encoding": {
  "x": {"field": "i", "type": "quantitative", "scale": {"domain": [-18.07, 611.45], "nice": false, "zero": false}},
  "y": {"field": "m20", "type": "quantitative", "scale": {"domain": [0.2263, 0.8245], "nice": false, "zero": false}}}},
{"data": {"name": "bars"},
 "transform": [{"window": [{"op": "mean", "field": "c", "as": "m5"}], "frame": [-4, 0], "sort": [{"field": "i"}]}],
 "mark": {"type": "line", "color": "#8000A8", "strokeWidth": 1},
 "encoding": {
  "x": {"field": "i", "type": "quantitative", "scale": {"domain": [-18.07, 611.45], "nice": false, "zero": false}},
  "y": {"field": "m5", "type": "quantitative", "scale": {"domain": [0.2263, 0.8245], "nice": false, "zero": false}}}},
{"data": {"name": "lines"},
 "mark": {"type": "line", "strokeWidth": 1},
 "encoding": {
  "x": {"field": "i", "type": "quantitative", "scale": {"domain": [-18.07, 611.45], "nice": false, "zero": false}},
  "y": {"field": "p", "type": "quantitative", "scale": {"domain": [0.2263, 0.8245], "nice": false, "zero": false}},
  "detail": {"field": "seg"},
  "color": {"field": "seg", "type": "nominal", "scale": {"domain": ["A", "B", "C", "D", "R1", "R2", "N"], "range": ["#FFFFFF", "#FFFFFF", "#FFFFFF", "#FFFFFF", "#E8102A", "#E8102A", "#000090"]}, "legend": null}}},
{"data": {"values": [{}]},
 "mark": {"type": "rule", "color": "black", "strokeWidth": 1},
 "encoding": {
  "x": {"datum": 583.9, "type": "quantitative", "scale": {"domain": [-18.07, 611.45], "nice": false, "zero": false}},
  "x2": {"datum": 611.45},
  "y": {"datum": 0.8241, "type": "quantitative", "scale": {"domain": [0.2263, 0.8245], "nice": false, "zero": false}}}},
{"data": {"values": [{}]},
 "mark": {"type": "rect", "fill": "#D4E4EE", "stroke": "black", "strokeWidth": 1},
 "encoding": {
  "x": {"datum": -14.8, "type": "quantitative", "scale": {"domain": [-18.07, 611.45], "nice": false, "zero": false}},
  "x2": {"datum": 5.3},
  "y": {"datum": 0.2318, "type": "quantitative", "scale": {"domain": [0.2263, 0.8245], "nice": false, "zero": false}},
  "y2": {"datum": 0.2437}}},
{"data": {"values": [{"t": "Sin órdenes"}]},
 "mark": {"type": "text", "align": "left", "baseline": "middle", "fontSize": 10, "color": "black"},
 "encoding": {
  "text": {"field": "t"},
  "x": {"datum": -14.2, "type": "quantitative", "scale": {"domain": [-18.07, 611.45], "nice": false, "zero": false}},
  "y": {"datum": 0.2378, "type": "quantitative", "scale": {"domain": [0.2263, 0.8245], "nice": false, "zero": false}}}},
{"data": {"values": [{"t": "www.visualchart.com"}]},
 "mark": {"type": "text", "align": "left", "baseline": "middle", "fontSize": 14, "font": "DejaVu Sans", "fontWeight": "bold", "color": "#E4E4F0"},
 "encoding": {
  "text": {"field": "t"},
  "x": {"datum": 5.4, "type": "quantitative", "scale": {"domain": [-18.07, 611.45], "nice": false, "zero": false}},
  "y": {"datum": 0.2382, "type": "quantitative", "scale": {"domain": [0.2263, 0.8245], "nice": false, "zero": false}}}},
{"data": {"values": [{}]},
 "mark": {"type": "rect", "fill": "#FFFFC0", "stroke": "black", "strokeWidth": 1},
 "encoding": {
  "x": {"datum": 585.8, "type": "quantitative", "scale": {"domain": [-18.07, 611.45], "nice": false, "zero": false}},
  "x2": {"datum": 597.0},
  "y": {"datum": 0.3846, "type": "quantitative", "scale": {"domain": [0.2263, 0.8245], "nice": false, "zero": false}},
  "y2": {"datum": 0.396}}},
{"data": {"values": [{"t": "0,390"}]},
 "mark": {"type": "text", "align": "left", "baseline": "middle", "fontSize": 12, "color": "black"},
 "encoding": {
  "text": {"field": "t"},
  "x": {"datum": 586.5, "type": "quantitative", "scale": {"domain": [-18.07, 611.45], "nice": false, "zero": false}},
  "y": {"datum": 0.3902, "type": "quantitative", "scale": {"domain": [0.2263, 0.8245], "nice": false, "zero": false}}}}
]
},
{
"width": 1916, "height": 156,
"view": {"fill": "#8080FF", "stroke": null},
"layer": [
{"data": {"name": "bars"},
 "mark": {"type": "rule", "color": "#0000A0", "strokeWidth": 1},
 "encoding": {
  "x": {"field": "i", "type": "quantitative", "scale": {"domain": [-18.07, 611.45], "nice": false, "zero": false}, "axis": null},
  "y": {"field": "v", "type": "quantitative", "scale": {"domain": [-5319, 61064], "nice": false, "zero": false}, "axis": null},
  "y2": {"datum": 0}}},
{"data": {"name": "vticks"},
 "mark": {"type": "tick", "orient": "horizontal", "color": "black", "size": 3, "thickness": 1, "xOffset": 1.5},
 "encoding": {
  "x": {"datum": 583.9, "type": "quantitative", "scale": {"domain": [-18.07, 611.45], "nice": false, "zero": false}},
  "y": {"field": "v", "type": "quantitative", "scale": {"domain": [-5319, 61064], "nice": false, "zero": false}}}},
{"data": {"name": "vticks"},
 "mark": {"type": "text", "align": "left", "baseline": "middle", "fontSize": 12, "color": "#000080", "dx": 5},
 "encoding": {
  "x": {"datum": 583.9, "type": "quantitative", "scale": {"domain": [-18.07, 611.45], "nice": false, "zero": false}},
  "y": {"field": "v", "type": "quantitative", "scale": {"domain": [-5319, 61064], "nice": false, "zero": false}},
  "text": {"field": "v", "type": "quantitative", "format": ",d", "formatType": "number"}}},
{"data": {"values": [{}]},
 "mark": {"type": "rule", "color": "#0000A0", "strokeWidth": 2},
 "encoding": {
  "x": {"datum": -17.5, "type": "quantitative", "scale": {"domain": [-18.07, 611.45], "nice": false, "zero": false}},
  "x2": {"datum": 562.3},
  "y": {"datum": 0, "type": "quantitative", "scale": {"domain": [-5319, 61064], "nice": false, "zero": false}}}},
{"data": {"values": [{}]},
 "mark": {"type": "rule", "color": "black", "strokeWidth": 1},
 "encoding": {
  "x": {"datum": 583.9, "type": "quantitative", "scale": {"domain": [-18.07, 611.45], "nice": false, "zero": false}},
  "y": {"datum": 54255, "type": "quantitative", "scale": {"domain": [-5319, 61064], "nice": false, "zero": false}},
  "y2": {"datum": -5319}}},
{"data": {"values": [{}]},
 "mark": {"type": "rule", "color": "black", "strokeWidth": 1},
 "encoding": {
  "x": {"datum": 583.9, "type": "quantitative", "scale": {"domain": [-18.07, 611.45], "nice": false, "zero": false}},
  "x2": {"datum": 611.45},
  "y": {"datum": 54255, "type": "quantitative", "scale": {"domain": [-5319, 61064], "nice": false, "zero": false}}}},
{"data": {"values": [{"t": "Vol_COM.MC  Vol: 869"}]},
 "mark": {"type": "text", "align": "left", "baseline": "middle", "fontSize": 11, "color": "#0000A0"},
 "encoding": {
  "text": {"field": "t"},
  "x": {"datum": -13.7, "type": "quantitative", "scale": {"domain": [-18.07, 611.45], "nice": false, "zero": false}},
  "y": {"datum": 57660, "type": "quantitative", "scale": {"domain": [-5319, 61064], "nice": false, "zero": false}}}},
{"data": {"values": [{"t": "P: 1.463.359"}]},
 "mark": {"type": "text", "align": "left", "baseline": "middle", "fontSize": 11, "color": "#FF0000"},
 "encoding": {
  "text": {"field": "t"},
  "x": {"datum": 25.6, "type": "quantitative", "scale": {"domain": [-18.07, 611.45], "nice": false, "zero": false}},
  "y": {"datum": 57660, "type": "quantitative", "scale": {"domain": [-5319, 61064], "nice": false, "zero": false}}}},
{"data": {"values": [{}]},
 "mark": {"type": "rect", "fill": "#FFFFC0", "stroke": "black", "strokeWidth": 1},
 "encoding": {
  "x": {"datum": 585.8, "type": "quantitative", "scale": {"domain": [-18.07, 611.45], "nice": false, "zero": false}},
  "x2": {"datum": 593.7},
  "y": {"datum": -2766, "type": "quantitative", "scale": {"domain": [-5319, 61064], "nice": false, "zero": false}},
  "y2": {"datum": 2766}}},
{"data": {"values": [{"t": "869"}]},
 "mark": {"type": "text", "align": "left", "baseline": "middle", "fontSize": 12, "color": "black"},
 "encoding": {
  "text": {"field": "t"},
  "x": {"datum": 586.5, "type": "quantitative", "scale": {"domain": [-18.07, 611.45], "nice": false, "zero": false}},
  "y": {"datum": 0, "type": "quantitative", "scale": {"domain": [-5319, 61064], "nice": false, "zero": false}}}},
{"data": {"values": [{}]},
 "mark": {"type": "rect", "fill": "#8080FF", "stroke": "#000080", "strokeWidth": 1},
 "encoding": {
  "x": {"datum": 606.9, "type": "quantitative", "scale": {"domain": [-18.07, 611.45], "nice": false, "zero": false}},
  "x2": {"datum": 611.1},
  "y": {"datum": -4894, "type": "quantitative", "scale": {"domain": [-5319, 61064], "nice": false, "zero": false}},
  "y2": {"datum": -638}}},
{"data": {"values": [{"t": "x10"}]},
 "mark": {"type": "text", "align": "left", "baseline": "middle", "fontSize": 7, "color": "#000080"},
 "encoding": {
  "text": {"field": "t"},
  "x": {"datum": 607.2, "type": "quantitative", "scale": {"domain": [-18.07, 611.45], "nice": false, "zero": false}},
  "y": {"datum": -2766, "type": "quantitative", "scale": {"domain": [-5319, 61064], "nice": false, "zero": false}}}}
]
},
{
"width": 1916, "height": 18,
"view": {"fill": "#FFFFE1", "stroke": null},
"data": {"name": "months"},
"mark": {"type": "text", "align": "left", "baseline": "middle", "dx": 3, "dy": 1, "fontSize": 11, "color": "black", "clip": true},
"encoding": {
 "x": {"field": "i", "type": "quantitative", "scale": {"domain": [-18.07, 611.45], "nice": false, "zero": false},
       "axis": {"orient": "bottom", "offset": -18, "values": [0, 22, 41, 63, 83, 104, 124, 146, 167, 189, 212, 232, 255, 277, 296, 318, 338, 359, 379, 401, 421, 444, 466, 487, 510, 531, 551, 573],
                "labels": false, "tickSize": 8, "tickColor": "black", "domainColor": "black", "title": null}},
 "text": {"field": "m"}
}
}
]
}
